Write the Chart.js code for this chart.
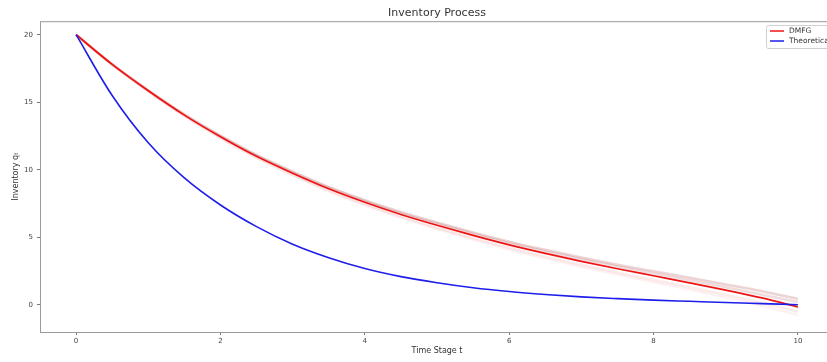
<!DOCTYPE html>
<html>
<head>
<meta charset="utf-8">
<script src="https://cdn.jsdelivr.net/npm/chart.js@4"></script>
<style>
  html, body { margin: 0; padding: 0; background: #fff; overflow: hidden; }
  #wrap { width: 850px; height: 362px; }
</style>
</head>
<body>
<div id="wrap"><canvas id="myChart" width="850" height="362"></canvas></div>
<script>
// time stages
const T = [0, 0.5, 1, 1.5, 2, 2.5, 3, 3.5, 4, 4.5, 5, 5.5, 6, 6.5, 7, 7.5, 8, 8.5, 9, 9.5, 10];

// theoretical inventory
const THEORETICAL = [20, 15.5, 12.0, 9.4, 7.4, 5.8, 4.5, 3.5, 2.7, 2.1, 1.65, 1.28, 1.0, 0.78, 0.6, 0.47, 0.36, 0.27, 0.18, 0.1, 0.02];

// DMFG mean path
const DMFG = [20, 17.8, 15.85, 14.05, 12.45, 11.0, 9.75, 8.6, 7.6, 6.7, 5.9, 5.15, 4.45, 3.82, 3.23, 2.68, 2.16, 1.64, 1.1, 0.52, -0.15];

// individual DMFG runs (faint)
const RUN_A = [20, 17.82, 15.89, 14.11, 12.53, 11.1, 9.87, 8.74, 7.76, 6.88, 6.1, 5.37, 4.69, 4.08, 3.51, 2.98, 2.49, 2.01, 1.52, 1.02, 0.45];
const RUN_B = [20, 17.81, 15.87, 14.08, 12.5, 11.06, 9.82, 8.68, 7.69, 6.8, 6.01, 5.27, 4.58, 3.96, 3.38, 2.84, 2.33, 1.83, 1.31, 0.76, 0.22];
const RUN_C = [20, 17.78, 15.82, 14.0, 12.38, 10.92, 9.65, 8.48, 7.46, 6.54, 5.72, 4.95, 4.23, 3.58, 2.97, 2.4, 1.86, 1.32, 0.76, 0.16, -0.5];
const RUN_D = [20, 17.77, 15.8, 13.97, 12.34, 10.87, 9.59, 8.41, 7.38, 6.45, 5.62, 4.84, 4.11, 3.45, 2.83, 2.25, 1.7, 1.14, 0.56, -0.06, -0.75];

const X_TICKS = [0, 2, 4, 6, 8, 10];
const Y_TICKS = [0, 5, 10, 15, 20];

const FONT = 'DejaVu Sans';
const RED = 'rgb(238,20,20)';
const BLUE = 'rgb(30,30,235)';

const toPoints = vals => vals.map((v, i) => ({ x: T[i], y: v }));

const line = (label, vals, color, width) => ({
  label,
  data: toPoints(vals),
  borderColor: color,
  borderWidth: width,
  pointRadius: 0,
  fill: false,
  cubicInterpolationMode: 'monotone',
});

// matplotlib-style box around the axes
const framePlugin = {
  id: 'frame',
  afterDraw(chart) {
    const { ctx, chartArea: a } = chart;
    ctx.save();
    ctx.strokeStyle = '#9a9a9a';
    ctx.lineWidth = 1;
    ctx.strokeRect(a.left + 0.5, a.top + 0.5, a.right - a.left, a.bottom - a.top);
    ctx.restore();
  },
};

// legend inside the upper right corner
const legendPlugin = {
  id: 'innerLegend',
  afterDraw(chart) {
    const { ctx } = chart;
    const items = [['DMFG', RED], ['Theoretical', BLUE]];
    const x = 766, y = 25, w = 80, h = 23;
    ctx.save();
    ctx.fillStyle = 'rgba(255,255,255,0.85)';
    ctx.strokeStyle = '#d0d0d0';
    ctx.lineWidth = 1;
    ctx.beginPath();
    ctx.roundRect(x + 0.5, y + 0.5, w, h, 2);
    ctx.fill();
    ctx.stroke();
    ctx.font = `7.5px "${FONT}"`;
    ctx.textBaseline = 'middle';
    items.forEach(([name, color], i) => {
      const ly = y + 6 + i * 10;
      ctx.strokeStyle = color;
      ctx.lineWidth = 1.5;
      ctx.beginPath();
      ctx.moveTo(x + 4, ly);
      ctx.lineTo(x + 18, ly);
      ctx.stroke();
      ctx.fillStyle = '#333';
      ctx.fillText(name, x + 23, ly);
    });
    ctx.restore();
  },
};

const ctx = document.getElementById('myChart').getContext('2d');
new Chart(ctx, {
  type: 'line',
  data: {
    datasets: [
      line('Theoretical', THEORETICAL, BLUE, 1.6),
      line('DMFG', DMFG, RED, 1.7),
      line('run', RUN_A, 'rgba(160,40,40,0.2)', 2.5),
      line('run', RUN_B, 'rgba(160,40,40,0.16)', 2.5),
      line('run', RUN_C, 'rgba(230,60,60,0.10)', 2.5),
      line('run', RUN_D, 'rgba(230,60,60,0.07)', 2.5),
    ],
  },
  options: {
    responsive: false,
    animation: false,
    layout: { padding: { left: 0, right: 16, top: 0, bottom: 0 } },
    plugins: {
      legend: { display: false },
      tooltip: { enabled: false },
      title: {
        display: true,
        text: 'Inventory Process',
        fullSize: false,
        color: '#333',
        font: { family: FONT, size: 11, weight: 'normal' },
        padding: { top: 7, bottom: 1 },
      },
    },
    scales: {
      x: {
        type: 'linear',
        min: -0.5,
        max: 10.5,
        afterBuildTicks: axis => { axis.ticks = X_TICKS.map(v => ({ value: v })); },
        afterFit: axis => { axis.height = 30; },
        grid: { drawOnChartArea: false, drawTicks: true, tickLength: 3, color: '#777' },
        border: { display: false },
        ticks: { color: '#444', font: { family: FONT, size: 7 }, padding: 2, maxRotation: 0 },
        title: {
          display: true,
          text: 'Time Stage t',
          color: '#333',
          font: { family: FONT, size: 8 },
          padding: { top: 0, bottom: 6 },
        },
      },
      y: {
        min: -2,
        max: 21,
        afterBuildTicks: axis => { axis.ticks = Y_TICKS.map(v => ({ value: v })); },
        afterFit: axis => { axis.width = 40; },
        grid: { drawOnChartArea: false, drawTicks: true, tickLength: 3, color: '#777' },
        border: { display: false },
        ticks: { color: '#444', font: { family: FONT, size: 7 }, padding: 4 },
        title: {
          display: true,
          text: 'Inventory qₜ',
          color: '#333',
          font: { family: FONT, size: 8 },
          padding: { top: 11, bottom: 0 },
        },
      },
    },
  },
  plugins: [framePlugin, legendPlugin],
});
</script>
</body>
</html>
